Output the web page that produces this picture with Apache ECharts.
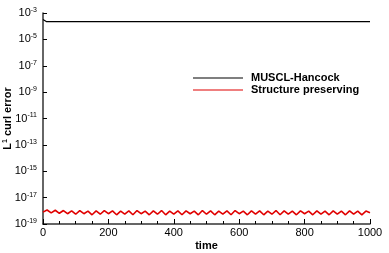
<!DOCTYPE html>
<html><head><meta charset="utf-8">
<script src="https://cdn.jsdelivr.net/npm/echarts@6/dist/echarts.min.js"></script>
<style>html,body{margin:0;padding:0;background:#fff}#c{width:389px;height:253px}</style>
</head><body><div id="c"></div>
<script>
// Data (errors as actual values; plotted on log10 scale)
const muscTime = [0, 3, 6, 10, 20, 50, 200, 400, 600, 800, 1000];
const muscErr  = [3.2e-4, 2.6e-4, 2.35e-4, 2.25e-4, 2.2e-4, 2.2e-4, 2.2e-4, 2.2e-4, 2.2e-4, 2.2e-4, 2.2e-4];
const spTime = [0,12.5,25,37.5,50,62.5,75,87.5,100,112.5,125,137.5,150,162.5,175,187.5,200,212.5,225,237.5,250,262.5,275,287.5,300,312.5,325,337.5,350,362.5,375,387.5,400,412.5,425,437.5,450,462.5,475,487.5,500,512.5,525,537.5,550,562.5,575,587.5,600,612.5,625,637.5,650,662.5,675,687.5,700,712.5,725,737.5,750,762.5,775,787.5,800,812.5,825,837.5,850,862.5,875,887.5,900,912.5,925,937.5,950,962.5,975,987.5,1000];
const spErr = [8.0e-19,1.15e-18,7.0e-19,1.1e-18,6.5e-19,1.05e-18,6.0e-19,1.0e-18,5.5e-19,1.05e-18,6.0e-19,9.5e-19,5.0e-19,1.0e-18,5.5e-19,1.05e-18,6.0e-19,1.0e-18,5.0e-19,9.5e-19,5.5e-19,1.0e-18,5.0e-19,1.05e-18,6.0e-19,9.5e-19,5.0e-19,1.0e-18,5.5e-19,1.05e-18,5.0e-19,9.5e-19,5.5e-19,1.0e-18,5.0e-19,1.0e-18,6.0e-19,9.5e-19,5.0e-19,1.05e-18,5.5e-19,1.0e-18,5.0e-19,9.5e-19,5.5e-19,1.0e-18,5.0e-19,1.05e-18,6.0e-19,9.5e-19,5.0e-19,1.0e-18,5.5e-19,1.0e-18,5.0e-19,9.5e-19,5.5e-19,1.05e-18,5.0e-19,1.0e-18,5.5e-19,9.5e-19,5.0e-19,1.0e-18,6.0e-19,9.5e-19,5.0e-19,1.0e-18,5.5e-19,9.5e-19,5.0e-19,1.0e-18,5.5e-19,9.5e-19,5.0e-19,1.0e-18,5.5e-19,9.5e-19,5.0e-19,9.5e-19,7.0e-19];
const seriesNames = ['MUSCL-Hancock', 'Structure preserving'];
const xTicks = [0, 200, 400, 600, 800, 1000];
const yTickExps = [-19, -17, -15, -13, -11, -9, -7, -5, -3];

const font = '"Liberation Sans", Arial, sans-serif';
const toPairs = (t, v) => t.map((x, i) => [x, Math.log10(v[i])]);
const chart = echarts.init(document.getElementById('c'), null, {renderer: 'canvas'});
chart.setOption({
  animation: false,
  backgroundColor: '#fff',
  grid: {left: 43, right: 19, top: 13, bottom: 29, containLabel: false, outerBoundsMode: 'none'},
  legend: {
    orient: 'vertical', left: 188, top: 67, itemWidth: 50, itemHeight: 1.2, itemGap: 0,
    icon: 'rect',
    textStyle: {fontFamily: font, fontWeight: 'bold', fontSize: 11, color: '#000', padding: [0,0,0,3], lineHeight: 12},
    data: seriesNames
  },
  xAxis: {
    type: 'value', min: 0, max: 1000, interval: 200,
    name: 'time', nameLocation: 'middle', nameGap: 16, nameMoveOverlap: false,
    nameTextStyle: {fontFamily: font, fontWeight: 'bold', fontSize: 11, color: '#000'},
    axisLine: {lineStyle: {color: '#333', width: 1.5}},
    axisTick: {inside: true, length: 5, lineStyle: {color: '#000'}},
    minorTick: {show: true, splitNumber: 4, length: 3, lineStyle: {color: '#000'}},
    splitLine: {show: false},
    axisLabel: {fontFamily: font, fontSize: 11, color: '#000', margin: 3,
      formatter: v => xTicks.includes(v) ? String(v) : ''}
  },
  yAxis: {
    type: 'value', min: -19, max: -3, interval: 2,
    name: 'L{sup|1} curl error', nameLocation: 'middle', nameGap: 30, nameMoveOverlap: false,
    nameTextStyle: {fontFamily: font, fontWeight: 'bold', fontSize: 11, color: '#000',
      rich: {sup: {fontFamily: font, fontWeight: 'bold', fontSize: 7, verticalAlign: 'top', color: '#000', padding: [0,0,4,0]}}},
    axisLine: {show: true, lineStyle: {color: '#333', width: 1.5}},
    axisTick: {show: true, inside: true, length: 4, lineStyle: {color: '#000'}},
    splitLine: {show: false},
    axisLabel: {margin: 6,
      formatter: v => yTickExps.includes(v) ? '{b|10}{s|' + v + '}' : '',
      rich: {
        b: {fontFamily: font, fontSize: 11, color: '#000'},
        s: {fontFamily: font, fontSize: 7, color: '#000', padding: [0,0,6,0]}
      }}
  },
  series: [
    {name: seriesNames[0], type: 'line', data: toPairs(muscTime, muscErr), symbol: 'none',
      lineStyle: {color: '#000', width: 1.2}, itemStyle: {color: '#000'}},
    {name: seriesNames[1], type: 'line', data: toPairs(spTime, spErr), symbol: 'none',
      lineStyle: {color: '#e00000', width: 1.6}, itemStyle: {color: '#e00000'}}
  ]
});
</script></body></html>
